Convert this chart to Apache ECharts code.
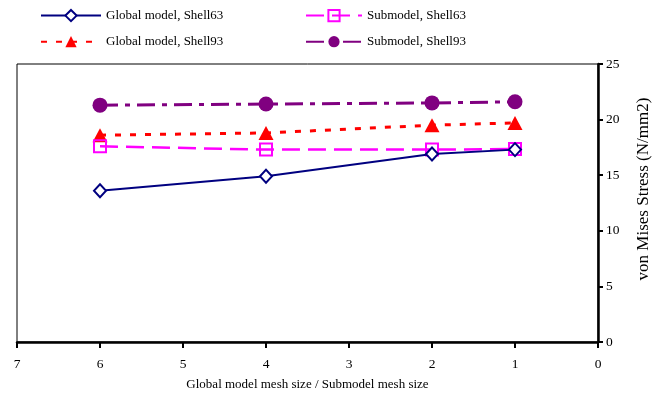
<!DOCTYPE html>
<html>
<head>
<meta charset="utf-8">
<script src="https://cdn.jsdelivr.net/npm/echarts@6/dist/echarts.min.js"></script>
<style>
  html, body { margin: 0; padding: 0; background: #fff; }
  #chart { width: 665px; height: 400px; }
</style>
</head>
<body>
<div id="chart"></div>
<script>
// Mesh-size ratios (global / submodel) and von Mises stress results (N/mm2)
const meshRatio = [6, 4, 2, 1];
const globalShell63 = [13.6, 14.9, 16.9, 17.3];
const subShell63 = [17.6, 17.3, 17.3, 17.35];
const globalShell93 = [18.6, 18.8, 19.5, 19.7];
const subShell93 = [21.3, 21.4, 21.5, 21.6];

const xTicks = { min: 0, max: 7, interval: 1 };
const yTicks = { min: 0, max: 25, interval: 5 };

const FONT = '"Liberation Serif", "Times New Roman", serif';

function pairs(ys) {
  return meshRatio.map((x, i) => [x, ys[i]]);
}

const chart = echarts.init(document.getElementById('chart'), null, { renderer: 'canvas' });

const legendText = { fontFamily: FONT, fontSize: 13, color: '#000' };

chart.setOption({
  animation: false,
  backgroundColor: '#fff',
  textStyle: { fontFamily: FONT },
  legend: [
    {
      data: ['Global model, Shell63', 'Global model, Shell93'],
      orient: 'vertical',
      left: 35, top: 4,
      itemWidth: 60, itemHeight: 14, itemGap: 13,
      textStyle: legendText,
      selectedMode: false
    },
    {
      data: ['Submodel, Shell63', 'Submodel, Shell93'],
      orient: 'vertical',
      left: 300, top: 4,
      itemWidth: 56, itemHeight: 14, itemGap: 13,
      textStyle: legendText,
      selectedMode: false
    }
  ],
  grid: {
    left: 17, right: 67, top: 64, bottom: 58,
    show: true, borderColor: '#000', borderWidth: 1,
    containLabel: false
  },
  xAxis: {
    type: 'value',
    inverse: true,
    min: xTicks.min, max: xTicks.max, interval: xTicks.interval,
    name: 'Global model mesh size / Submodel mesh size',
    nameLocation: 'middle', nameGap: 36,
    nameTextStyle: { fontFamily: FONT, fontSize: 13, color: '#000' },
    axisLine: { show: true, onZero: false, lineStyle: { color: '#000', width: 2.5 } },
    axisTick: { show: true, length: 6, lineStyle: { color: '#000', width: 2 } },
    axisLabel: { fontFamily: FONT, fontSize: 13.5, color: '#000', margin: 15 },
    splitLine: { show: false }
  },
  yAxis: {
    type: 'value',
    position: 'right',
    min: yTicks.min, max: yTicks.max, interval: yTicks.interval,
    name: 'von Mises Stress (N/mm2)',
    nameLocation: 'middle', nameGap: 37, nameRotate: 90,
    nameTextStyle: { fontFamily: FONT, fontSize: 17, color: '#000', padding: [0, 0, 0, 28] },
    axisLine: { show: true, onZero: false, lineStyle: { color: '#000', width: 2.5 } },
    axisTick: { show: true, length: 5, lineStyle: { color: '#000', width: 2 } },
    axisLabel: { fontFamily: FONT, fontSize: 13.5, color: '#000', margin: 8 },
    splitLine: { show: false }
  },
  series: [
    {
      name: 'Global model, Shell63',
      type: 'line',
      data: pairs(globalShell63),
      symbol: 'diamond', symbolSize: [12, 13],
      lineStyle: { color: '#000080', width: 2, type: 'solid' },
      itemStyle: { color: '#fff', borderColor: '#000080', borderWidth: 2 },
      z: 5
    },
    {
      name: 'Submodel, Shell63',
      type: 'line',
      data: pairs(subShell63),
      symbol: 'rect', symbolSize: 12,
      lineStyle: { color: '#ff00ff', width: 2.5, type: [18, 8] },
      itemStyle: { color: 'rgba(255,255,255,0)', borderColor: '#ff00ff', borderWidth: 2 },
      z: 4
    },
    {
      name: 'Global model, Shell93',
      type: 'line',
      data: pairs(globalShell93),
      symbol: 'triangle', symbolSize: [15, 14],
      lineStyle: { color: '#ff0000', width: 3, type: [6, 9] },
      itemStyle: { color: '#ff0000' },
      z: 3
    },
    {
      name: 'Submodel, Shell93',
      type: 'line',
      data: pairs(subShell93),
      symbol: 'circle', symbolSize: 15,
      lineStyle: { color: '#800080', width: 3, type: [18, 7, 5, 7] },
      itemStyle: { color: '#800080' },
      z: 2
    }
  ]
});
</script>
</body>
</html>
